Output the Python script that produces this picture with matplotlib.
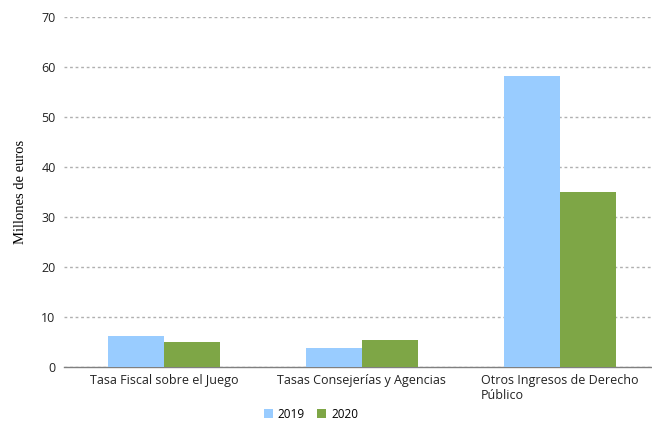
import numpy as np
import matplotlib.pyplot as plt

categories = ['Tasa Fiscal sobre el Juego', 'Tasas Consejerías y Agencias',
              'Otros Ingresos de Derecho\nPúblico']
years = ['2019', '2020']
values_2019 = [6.2, 3.8, 58.2]
values_2020 = [5.0, 5.4, 35.0]

colors = ['#99ccff', '#7ea646']

fig = plt.figure(figsize=(6.52, 4.21), dpi=100)
ax = fig.add_axes([0.098, 0.128, 0.902, 0.832])

x = np.arange(len(categories))
w = 0.283
ax.bar(x - w / 2, values_2019, w, color=colors[0], label=years[0], zorder=3)
ax.bar(x + w / 2, values_2020, w, color=colors[1], label=years[1], zorder=3)

ax.set_xlim(-0.505, 2.465)
ax.set_ylim(0, 70)
ax.set_yticks(range(0, 71, 10))
ax.yaxis.grid(True, linestyle=(0, (2, 2)), color='#b0b0b0', linewidth=1)
ax.set_axisbelow(True)

for s in ['top', 'right', 'left']:
    ax.spines[s].set_visible(False)
ax.spines['bottom'].set_color('#808080')
ax.spines['bottom'].set_linewidth(1)

ax.set_xticks(x)
ax.set_xticklabels(categories, fontsize=9, family='Open Sans', color='#222222',
                   multialignment='left', va='top')
ax.tick_params(axis='both', length=0, labelsize=9, colors='#222222')
ax.tick_params(axis='x', pad=5)
ax.tick_params(axis='y', pad=6)
for lbl in ax.get_yticklabels():
    lbl.set_family('Open Sans')

ax.set_ylabel('Millones de euros', family='Liberation Serif', fontsize=10.5, labelpad=10)

ax.legend(loc='upper center', bbox_to_anchor=(0.42, -0.085), ncol=2, frameon=False,
          prop={'family': 'Open Sans', 'size': 8.5}, handlelength=0.8, handleheight=0.8,
          columnspacing=1.0, handletextpad=0.4)

fig.savefig('out.png', dpi=100)
